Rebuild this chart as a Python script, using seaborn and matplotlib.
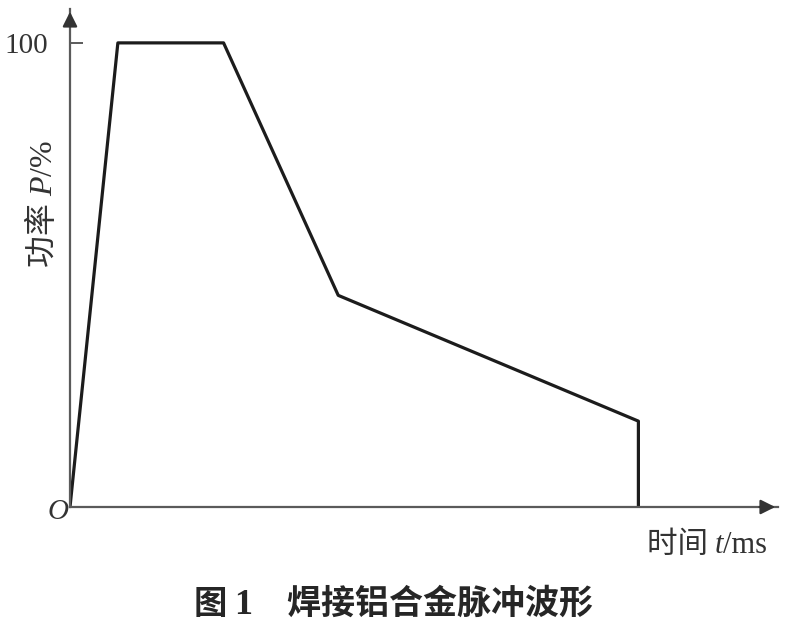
import matplotlib
matplotlib.use("Agg")
import matplotlib.pyplot as plt
import seaborn as sns

# pulse waveform for welding aluminium alloy (time in arbitrary ms units)
time_ms = [0, 0.96, 3.08, 5.38, 11.4, 11.4]
power_pct = [0, 100, 100, 45.6, 18.5, 0]
y_ticks = [100]
y_tick_labels = ['100']
x_max = 14.2
y_max = 107.3

W, H = 791, 637
CJK = ['Noto Sans CJK SC', 'DejaVu Sans']
SERIF = ['Liberation Serif', 'Noto Sans CJK SC']
INK = '#333333'

sns.set_theme(style="white")
plt.rcParams['font.family'] = SERIF

fig = plt.figure(figsize=(W / 100, H / 100), dpi=100)
ax = fig.add_axes([70 / W, 130 / H, (778 - 70) / W, (507 - 9) / H])

sns.lineplot(x=time_ms, y=power_pct, sort=False, estimator=None,
             color='#1c1c1c', linewidth=2.3, ax=ax)

ax.set_xlim(0, x_max)
ax.set_ylim(0, y_max)
for side in ['top', 'right']:
    ax.spines[side].set_visible(False)
for side in ['left', 'bottom']:
    ax.spines[side].set_color('#5a5a5a')
    ax.spines[side].set_linewidth(1.6)

# axis arrows
ax.annotate('', xy=(1.0, 0), xycoords='axes fraction', xytext=(0.97, 0),
            arrowprops=dict(arrowstyle='-|>', color=INK, lw=1.6, mutation_scale=22))
ax.annotate('', xy=(0, 1.0), xycoords='axes fraction', xytext=(0, 0.97),
            arrowprops=dict(arrowstyle='-|>', color=INK, lw=1.6, mutation_scale=22))

ax.set_xticks([])
ax.set_yticks(y_ticks)
ax.set_yticklabels(y_tick_labels, fontsize=21, color=INK)
ax.tick_params(axis='y', direction='in', length=9, width=1.4, color='#5a5a5a',
               pad=16, left=True)
ax.set_xlabel('')
ax.set_ylabel('')

renderer = fig.canvas.get_renderer()


def run_of_text(parts, cx, cy, rotated=False, weight='normal', color=INK):
    # parts: (text, family, style, size); laid out on one baseline, centred on (cx, cy) px
    texts = []
    for s, fam, st, size in parts:
        t = fig.text(0, 0, s, family=fam, style=st, fontsize=size, color=color,
                     fontweight=weight, ha='left', va='baseline',
                     rotation=90 if rotated else 0, rotation_mode='anchor')
        texts.append(t)
    sizes = [t.get_window_extent(renderer) for t in texts]
    if rotated:
        total = sum(b.height for b in sizes)
        pos = cy - total / 2
        for t, b in zip(texts, sizes):
            t.set_position((cx / W, pos / H))
            pos += b.height
    else:
        total = sum(b.width for b in sizes)
        pos = cx - total / 2
        for t, b in zip(texts, sizes):
            t.set_position((pos / W, cy / H))
            pos += b.width


fig.text(58 / W, 1 - 512 / H, 'O', fontsize=21, style='italic', color=INK,
         ha='center', va='center')

# y label, baseline to the right of the glyphs
run_of_text([('功率 ', CJK, 'normal', 23), ('P', SERIF, 'italic', 23),
             ('/%', SERIF, 'normal', 23)], 52, H - 204, rotated=True)
# x label
run_of_text([('时间 ', CJK, 'normal', 22), ('t', SERIF, 'italic', 22),
             ('/ms', SERIF, 'normal', 22)], 707, H - 553)

# caption
run_of_text([('图 ', CJK, 'normal', 24), ('1', SERIF, 'normal', 26),
             ('　焊接铝合金脉冲波形', CJK, 'normal', 24.5)], 393, H - 614,
            weight='bold', color='#262626')

fig.savefig('out.png', dpi=100, facecolor='white')
